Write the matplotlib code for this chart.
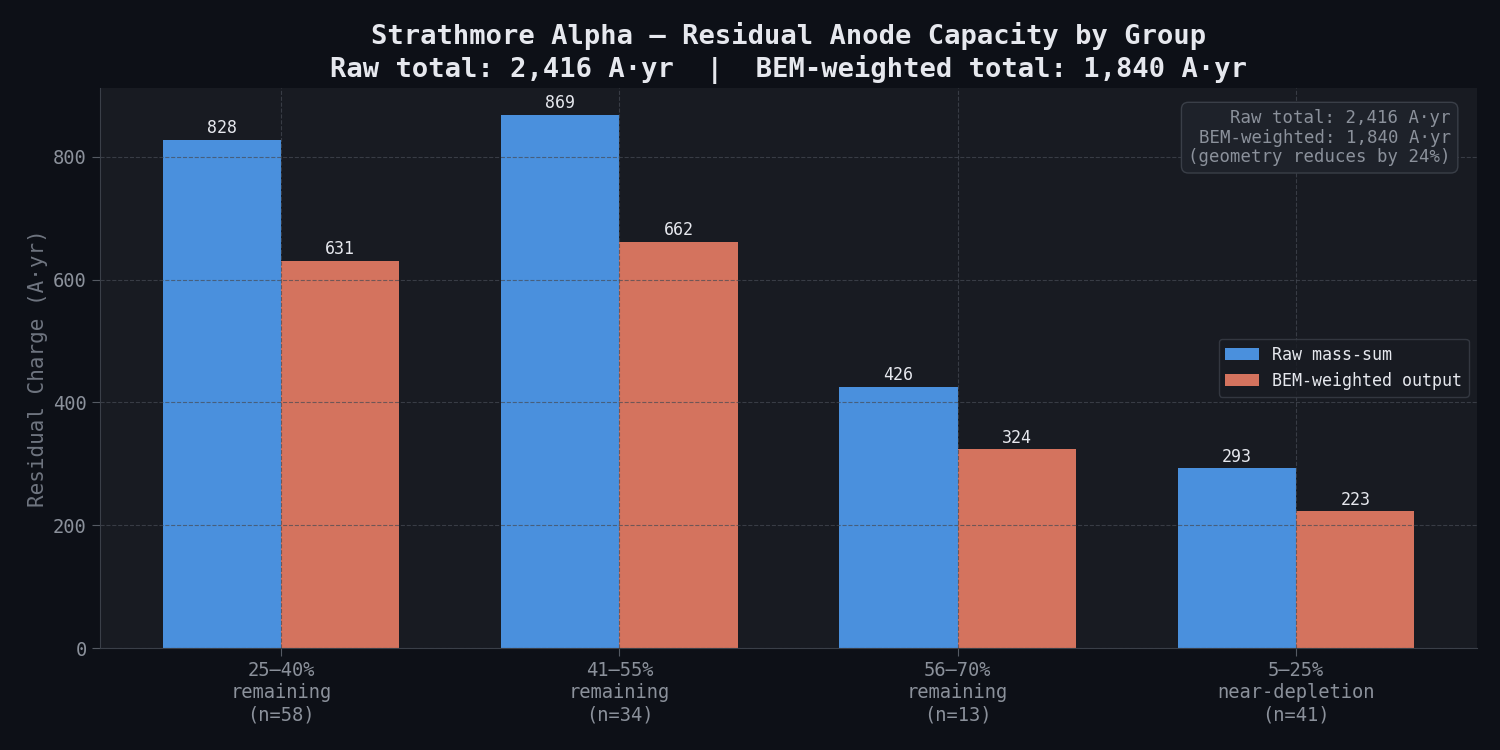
import matplotlib
matplotlib.use('Agg')
import matplotlib.pyplot as plt
import numpy as np

groups = ['25\u201340%\nremaining\n(n=58)', '41\u201355%\nremaining\n(n=34)',
          '56\u201370%\nremaining\n(n=13)', '5\u201325%\nnear-depletion\n(n=41)']
raw_vals = [828, 869, 426, 293]
bem_vals = [631, 662, 324, 223]
raw_total = 2416
bem_total = 1840

plt.rcParams['font.family'] = ['DejaVu Sans Mono', 'DejaVu Sans']

fig_bg = '#0d1017'
ax_bg = '#181b22'
blue = '#4a90dd'
red = '#d4735e'
txt = '#e6e8ee'
dim = '#8b919b'

fig, ax = plt.subplots(figsize=(15, 7.5), dpi=100)
fig.patch.set_facecolor(fig_bg)
ax.set_facecolor(ax_bg)
fig.subplots_adjust(left=0.0667, right=0.9847, top=0.8827, bottom=0.136)

x = np.arange(len(groups))
w = 0.35
b1 = ax.bar(x - w/2, raw_vals, w, color=blue, label='Raw mass-sum')
b2 = ax.bar(x + w/2, bem_vals, w, color=red, label='BEM-weighted output')

for bars in (b1, b2):
    for b in bars:
        ax.text(b.get_x() + b.get_width()/2, b.get_height() + 4, f'{int(b.get_height())}',
                ha='center', va='bottom', fontsize=12, color=txt)

ax.set_xticks(x)
ax.set_xticklabels(groups, fontsize=13.5, color=dim)
ax.tick_params(axis='y', labelsize=13.5, labelcolor=dim, color='#555a63', length=6)
ax.tick_params(axis='x', color='#555a63', length=6)
ax.set_ylabel('Residual Charge (A\u00b7yr)', fontsize=15, color='#6f7580')
ax.set_ylim(0, max(raw_vals) * 1.05)
ax.grid(True, linestyle='--', color='#464b54', alpha=0.7, linewidth=0.8)

for s in ('top', 'right'):
    ax.spines[s].set_visible(False)
for s in ('left', 'bottom'):
    ax.spines[s].set_color('#3a3f48')

ax.set_title(f'Strathmore Alpha \u2014 Residual Anode Capacity by Group\n'
             f'Raw total: {raw_total:,} A\u00b7yr  |  BEM-weighted total: {bem_total:,} A\u00b7yr',
             fontsize=19.5, fontweight='bold', color=txt, pad=8)

red_pct = round((1 - bem_total / raw_total) * 100)
ax.text(0.981, 0.962, f'Raw total: {raw_total:,} A\u00b7yr\nBEM-weighted: {bem_total:,} A\u00b7yr\n'
        f'(geometry reduces by {red_pct}%)',
        transform=ax.transAxes, ha='right', va='top', fontsize=12.5, color=dim,
        linespacing=1.1,
        bbox=dict(boxstyle='round,pad=0.4', facecolor='#1e222a', edgecolor='#3a3f48'))

leg = ax.legend(loc='center right', fontsize=12, facecolor=ax_bg, edgecolor='#3a3f48',
                bbox_to_anchor=(1.0, 0.5))
for t in leg.get_texts():
    t.set_color(txt)

plt.savefig('out.png', facecolor=fig_bg)
